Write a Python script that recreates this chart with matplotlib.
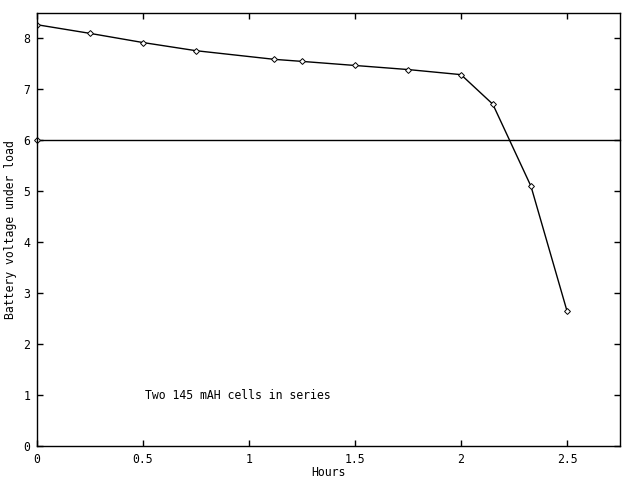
import matplotlib
matplotlib.use("Agg")
import matplotlib.pyplot as plt

hours = [0, 0.25, 0.5, 0.75, 1.12, 1.25, 1.5, 1.75, 2.0, 2.15, 2.33, 2.5]
volts = [8.27, 8.10, 7.92, 7.76, 7.59, 7.55, 7.47, 7.39, 7.29, 6.71, 5.10, 2.65]
ref_x = [0, 2.75]
ref_y = [6, 6]
xticks = [0, 0.5, 1, 1.5, 2, 2.5]
xticklabels = ["0", "0.5", "1", "1.5", "2", "2.5"]
yticks = [0, 1, 2, 3, 4, 5, 6, 7, 8]

plt.rcParams['font.family'] = ['DejaVu Sans Mono']
plt.rcParams['font.size'] = 8.3

fig = plt.figure(figsize=(6.4, 4.8), dpi=100)
ax = fig.add_axes([37/640, 34/480, 583/640, 433/480])
ax.plot(hours, volts, color='black', lw=1, marker='D', ms=3.0, mfc='white', mec='black', mew=0.7)
ax.plot(ref_x, ref_y, color='black', lw=1, marker='D', ms=3.0, mfc='white', mec='black', mew=0.7,
        markevery=[0], clip_on=False)
ax.set_xlim(0, 2.75)
ax.set_ylim(0, 8.5)
ax.set_xticks(xticks)
ax.set_xticklabels(xticklabels)
ax.set_yticks(yticks)
ax.tick_params(direction='in', top=True, right=True, length=4, width=1, pad=5)
for s in ax.spines.values():
    s.set_linewidth(1)
ax.text(0.51, 1.0, "Two 145 mAH cells in series", ha='left', va='center')
fig.text(328/640, 1 - 472/480, "Hours", ha='center', va='center')
fig.text(11/640, 1 - 230/480, "Battery voltage under load", rotation=90, ha='center', va='center')
fig.savefig("out.png", dpi=100)
